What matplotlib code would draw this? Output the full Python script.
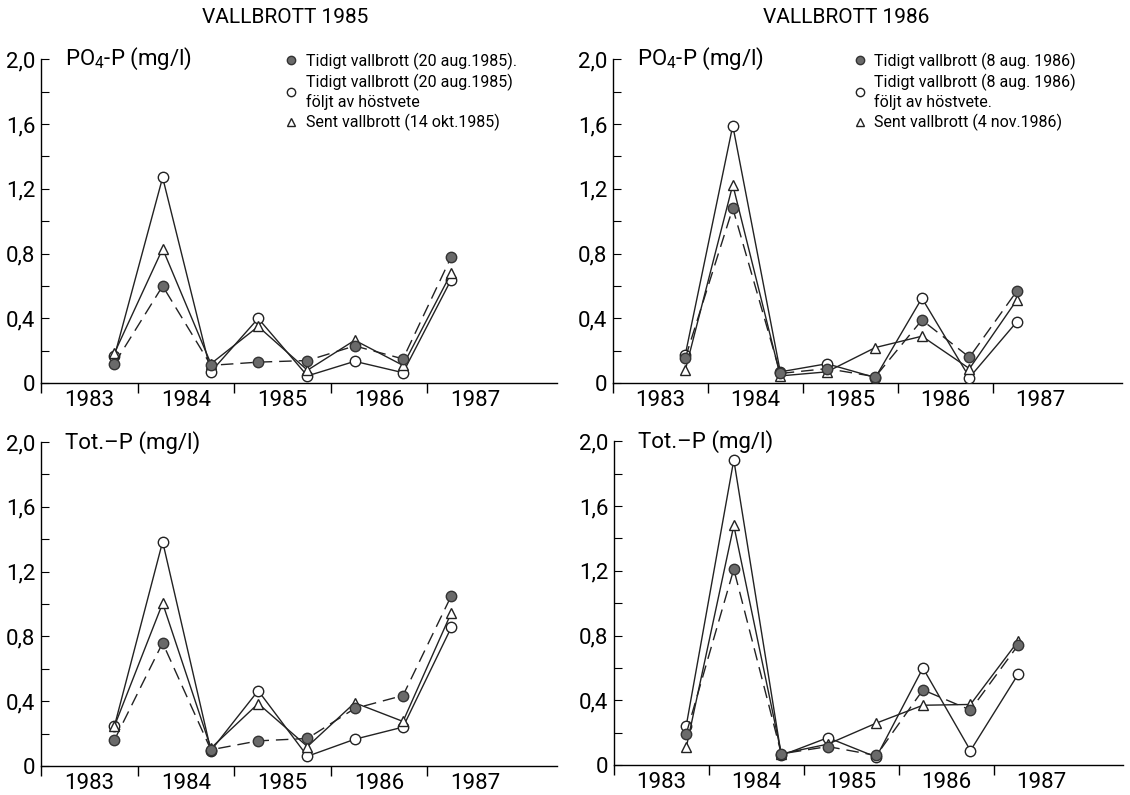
import matplotlib
matplotlib.use("Agg")
import matplotlib.pyplot as plt
from matplotlib.lines import Line2D

plt.rcParams['font.family'] = ['Roboto', 'DejaVu Sans']
plt.rcParams['mathtext.fontset'] = 'custom'
plt.rcParams['mathtext.rm'] = 'Roboto'
plt.rcParams['mathtext.it'] = 'Roboto'

# sampling times (years), ticks at year boundaries
x = [1983.76, 1984.26, 1984.76, 1985.25, 1985.76, 1986.25, 1986.75, 1987.25]
years = [1983, 1984, 1985, 1986, 1987]

# VALLBROTT 1985, PO4-P
po4_85_early = [0.12, 0.60, 0.11, 0.13, 0.14, 0.23, 0.15, 0.78]
po4_85_wheat = [0.165, 1.27, 0.07, 0.40, 0.045, 0.135, 0.065, 0.64]
po4_85_late = [0.185, 0.83, 0.12, 0.35, 0.08, 0.265, 0.11, 0.68]
# VALLBROTT 1986, PO4-P
po4_86_early = [0.155, 1.08, 0.06, 0.09, 0.04, 0.39, 0.16, 0.57]
po4_86_wheat = [0.175, 1.59, 0.07, 0.12, 0.035, 0.525, 0.035, 0.38]
po4_86_late = [0.08, 1.225, 0.045, 0.07, 0.22, 0.29, 0.09, 0.515]
# VALLBROTT 1985, Tot-P
tot_85_early = [0.16, 0.76, 0.10, 0.155, 0.17, 0.355, 0.435, 1.05]
tot_85_wheat = [0.245, 1.385, 0.095, 0.465, 0.06, 0.165, 0.24, 0.855]
tot_85_late = [0.245, 1.005, 0.11, 0.385, 0.12, 0.39, 0.275, 0.945]
# VALLBROTT 1986, Tot-P
tot_86_early = [0.195, 1.21, 0.07, 0.115, 0.06, 0.465, 0.34, 0.74]
tot_86_wheat = [0.245, 1.885, 0.06, 0.17, 0.05, 0.60, 0.09, 0.56]
tot_86_late = [0.11, 1.48, 0.07, 0.13, 0.26, 0.37, 0.375, 0.765]

legend_85 = ["Tidigt vallbrott (20 aug.1985).",
             "Tidigt vallbrott (20 aug.1985)\nföljt av höstvete",
             "Sent vallbrott (14 okt.1985)"]
legend_86 = ["Tidigt vallbrott (8 aug. 1986)",
             "Tidigt vallbrott (8 aug. 1986)\nföljt av höstvete.",
             "Sent vallbrott (4 nov.1986)"]

FILL = '#6a6a6a'
INK = '#222222'
MS = 7.5


def draw_panel(ax, early, wheat, late, label):
    ax.plot(x, wheat, '-', color=INK, lw=1.0, marker='o', ms=MS,
            mfc='white', mec=INK, mew=1.0, zorder=3)
    ax.plot(x, late, '-', color=INK, lw=1.0, marker='^', ms=MS,
            mfc='white', mec=INK, mew=1.0, zorder=3)
    ax.plot(x, early, color=INK, lw=1.0, dashes=(9, 5), marker='o', ms=MS,
            mfc=FILL, mec='#333333', mew=1.0, zorder=4)

    ax.set_xlim(1983, 1988.35)
    ax.set_ylim(0, 2.0)
    for s in ['top', 'right']:
        ax.spines[s].set_visible(False)
    ax.spines['left'].set_linewidth(1.0)
    ax.spines['bottom'].set_linewidth(1.0)

    ax.set_yticks([0, 0.4, 0.8, 1.2, 1.6, 2.0])
    ax.set_yticklabels(['0', '0,4', '0,8', '1,2', '1,6', '2,0'], fontsize=16)
    ax.set_yticks([0.2, 0.6, 1.0, 1.4, 1.8], minor=True)
    ax.tick_params(axis='y', which='both', direction='in', length=6, width=0.8, pad=4)

    ax.set_xticks(years)
    ax.set_xticklabels([])
    ax.set_xticks([y + 0.5 for y in years], minor=True)
    ax.set_xticklabels([str(y) for y in years], minor=True, fontsize=16)
    ax.tick_params(axis='x', which='major', direction='out', length=7, width=1.0)
    ax.tick_params(axis='x', which='minor', length=0, pad=5)

    ax.text(0.047, 1.0, label, transform=ax.transAxes, fontsize=16,
            ha='left', va='center')


def add_legend(ax, labels, anchor):
    handles = [
        Line2D([], [], ls='none', marker='o', ms=6, mfc=FILL, mec='#333333'),
        Line2D([], [], ls='none', marker='o', ms=6, mfc='white', mec=INK),
        Line2D([], [], ls='none', marker='^', ms=6, mfc='white', mec=INK),
    ]
    ax.legend(handles, labels, loc='upper left', bbox_to_anchor=anchor,
              frameon=False, fontsize=11.5, handlelength=0.8, handletextpad=0.5,
              labelspacing=0.25, borderaxespad=0)


fig = plt.figure(figsize=(11.3, 7.95), dpi=100)

ax1 = fig.add_axes([0.0363, 0.518, 0.457, 0.4075])
ax2 = fig.add_axes([0.5425, 0.518, 0.450, 0.4075])
ax3 = fig.add_axes([0.0363, 0.0365, 0.457, 0.4075])
ax4 = fig.add_axes([0.5434, 0.0375, 0.450, 0.4075])

draw_panel(ax1, po4_85_early, po4_85_wheat, po4_85_late, r'PO$_4$-P (mg/l)')
draw_panel(ax2, po4_86_early, po4_86_wheat, po4_86_late, r'PO$_4$-P (mg/l)')
draw_panel(ax3, tot_85_early, tot_85_wheat, tot_85_late, 'Tot.–P (mg/l)')
draw_panel(ax4, tot_86_early, tot_86_wheat, tot_86_late, 'Tot.–P (mg/l)')

add_legend(ax1, legend_85, (0.46, 1.04))
add_legend(ax2, legend_86, (0.46, 1.04))

fig.text(0.252, 0.978, 'VALLBROTT 1985', fontsize=15, ha='center', va='center')
fig.text(0.749, 0.978, 'VALLBROTT 1986', fontsize=15, ha='center', va='center')

fig.savefig('out.png', dpi=100)
